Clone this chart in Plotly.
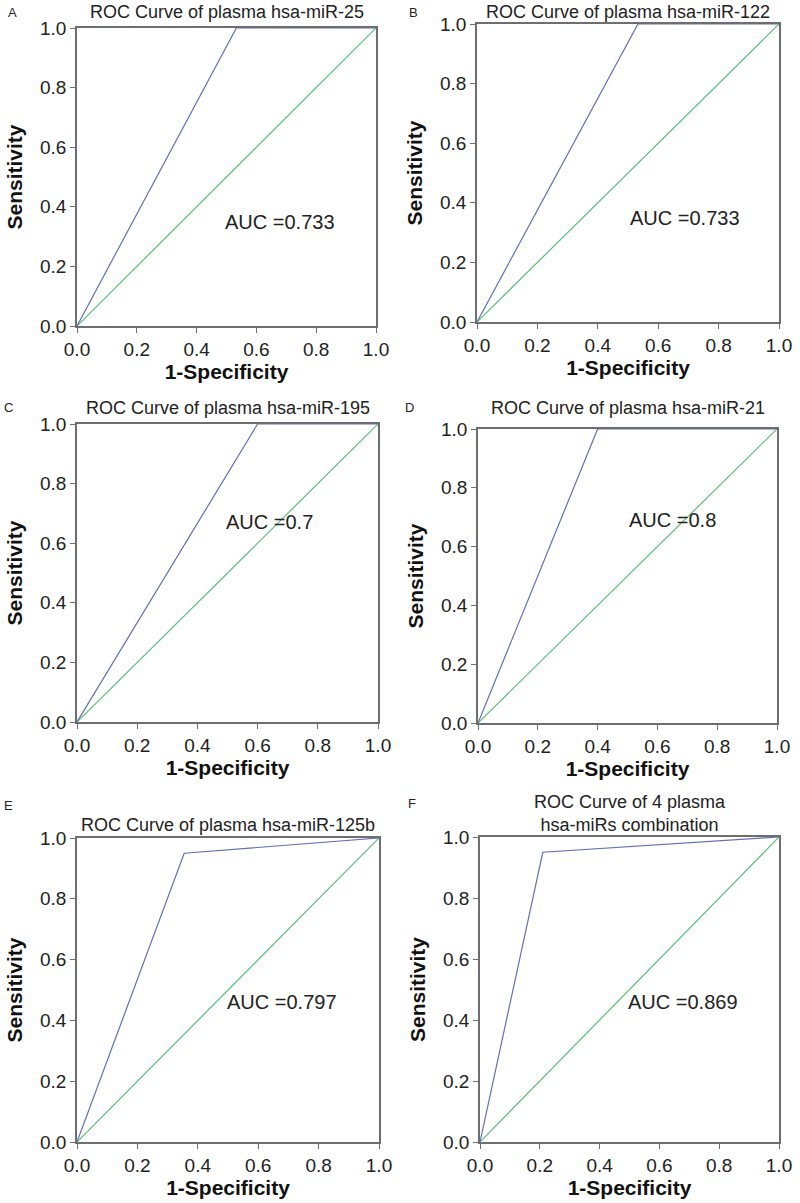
import plotly.graph_objects as go

panel_letters = ["A", "B", "C", "D", "E", "F"]
titles = [
    "ROC Curve of plasma hsa-miR-25",
    "ROC Curve of plasma hsa-miR-122",
    "ROC Curve of plasma hsa-miR-195",
    "ROC Curve of plasma hsa-miR-21",
    "ROC Curve of plasma hsa-miR-125b",
    "ROC Curve of 4 plasma<br>hsa-miRs combination",
]
auc_labels = ["AUC =0.733", "AUC =0.733", "AUC =0.7", "AUC =0.8", "AUC =0.797", "AUC =0.869"]
roc_fpr = [
    [0.0, 0.533, 1.0],
    [0.0, 0.533, 1.0],
    [0.0, 0.6, 1.0],
    [0.0, 0.4, 1.0],
    [0.0, 0.355, 1.0],
    [0.0, 0.21, 1.0],
]
roc_tpr = [
    [0.0, 1.0, 1.0],
    [0.0, 1.0, 1.0],
    [0.0, 1.0, 1.0],
    [0.0, 1.0, 1.0],
    [0.0, 0.95, 1.0],
    [0.0, 0.95, 1.0],
]
ref_x = [0.0, 1.0]
ref_y = [0.0, 1.0]
tick_vals = [0.0, 0.2, 0.4, 0.6, 0.8, 1.0]

W, H = 800, 1203
# pixel boxes (left, right, top, bottom)
boxes = [
    (77, 376, 28, 326),
    (477, 779, 24, 322),
    (77, 378, 424, 722),
    (478, 777, 429, 723),
    (77, 379, 838, 1142),
    (480, 779, 837, 1142),
]
auc_pos = [(0.68, 0.35), (0.69, 0.35), (0.64, 0.67), (0.65, 0.69), (0.68, 0.46), (0.68, 0.46)]
title_y = [12, 12, 408, 408, 825, 813]
letter_pos = [(12, 12), (413, 12), (8, 407), (410, 407), (8, 805), (412, 803)]

BLUE = "#6070b6"
GREEN = "#5abd78"
AX = "#6e6e6e"
FONT = "Liberation Sans, Arial, sans-serif"

fig = go.Figure()
annotations = []
for i in range(6):
    l, r, t, b = boxes[i]
    xa = "xaxis" if i == 0 else f"xaxis{i+1}"
    ya = "yaxis" if i == 0 else f"yaxis{i+1}"
    xr = "x" if i == 0 else f"x{i+1}"
    yr = "y" if i == 0 else f"y{i+1}"
    fig.add_trace(go.Scatter(x=ref_x, y=ref_y, mode="lines", line=dict(color=GREEN, width=1.2),
                             xaxis=xr, yaxis=yr, showlegend=False, cliponaxis=False, hoverinfo="skip"))
    fig.add_trace(go.Scatter(x=roc_fpr[i], y=roc_tpr[i], mode="lines", line=dict(color=BLUE, width=1.2),
                             xaxis=xr, yaxis=yr, showlegend=False, cliponaxis=False))
    common = dict(range=[0, 1], showgrid=False, zeroline=False, showline=True, mirror=True,
                  linecolor=AX, linewidth=1.5, ticks="outside", ticklen=5, tickcolor=AX, tickwidth=1.2,
                  tickvals=tick_vals, tickformat=".1f", tickfont=dict(family=FONT, size=19, color="#222"),
                  fixedrange=True, automargin=False)
    fig.layout[xa] = dict(common, domain=[l / W, r / W], anchor=yr,
                          title=dict(text="<b>1-Specificity</b>", font=dict(family=FONT, size=21, color="#111"), standoff=6))
    fig.layout[ya] = dict(common, domain=[1 - b / H, 1 - t / H], anchor=xr,
                          title=dict(text="<b>Sensitivity</b>", font=dict(family=FONT, size=21, color="#111"), standoff=12))
    ax, ay = auc_pos[i]
    annotations.append(dict(x=ax, y=ay, xref=xr, yref=yr, text=auc_labels[i], showarrow=False,
                            font=dict(family=FONT, size=20, color="#222"), xanchor="center", yanchor="middle"))
    annotations.append(dict(x=(l + r) / 2 / W, y=1 - title_y[i] / H, xref="paper", yref="paper",
                            text=titles[i], showarrow=False, font=dict(family=FONT, size=18, color="#222"),
                            xanchor="center", yanchor="middle"))
    lx, ly = letter_pos[i]
    annotations.append(dict(x=lx / W, y=1 - ly / H, xref="paper", yref="paper", text=panel_letters[i],
                            showarrow=False, font=dict(family=FONT, size=13, color="#222"),
                            xanchor="center", yanchor="middle"))

fig.update_layout(width=W, height=H, margin=dict(l=0, r=0, t=0, b=0), plot_bgcolor="white",
                  paper_bgcolor="white", annotations=annotations)
fig.write_html("out.html", config={"displayModeBar": False},
               post_script="document.body.style.margin='0';")
